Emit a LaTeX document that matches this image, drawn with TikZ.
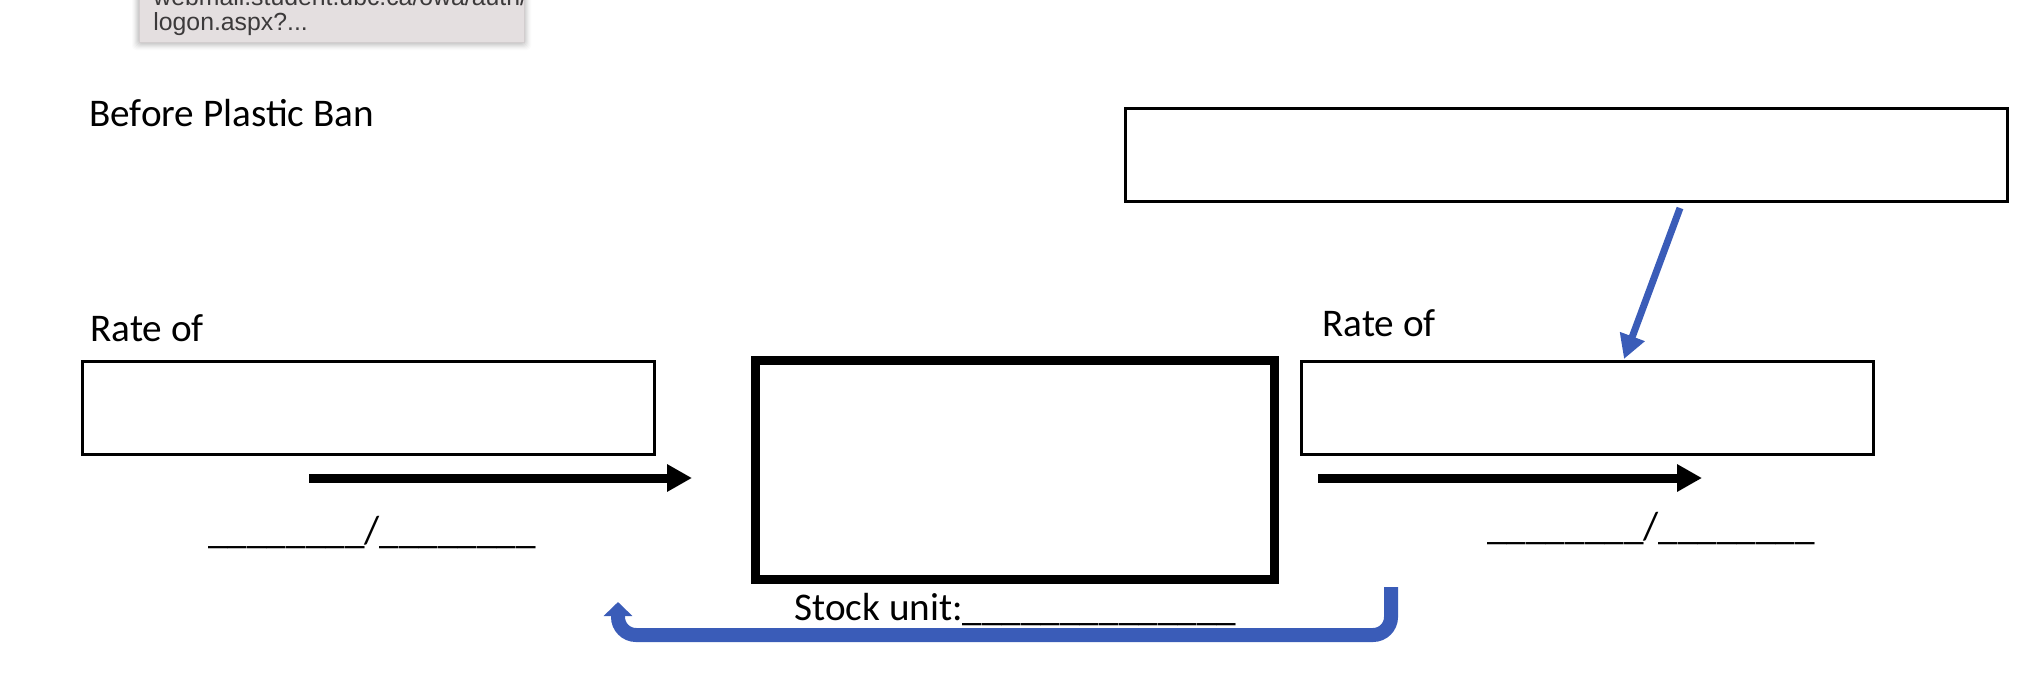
\documentclass[tikz,border=0pt]{standalone}
\usepackage{fontspec}
\setmainfont{Carlito}
\newfontfamily\tipfont{Liberation Sans}
\usetikzlibrary{arrows.meta}
\definecolor{loopblue}{HTML}{3A5CB8}
\definecolor{tipfill}{HTML}{E4DFE0}
\definecolor{tipborder}{HTML}{D2CDCE}
\definecolor{tiptext}{HTML}{3C3A3B}
\tikzset{
  thinbox/.style={draw=black, line width=1.5pt, inner sep=0pt, fill=white},
  stockbox/.style={draw=black, line width=4.5pt, inner sep=0pt, fill=white},
  label/.style={anchor=base west, inner sep=0pt, font=\fontsize{19.6pt}{23pt}\selectfont},
  flowarrow/.style={line width=4.5pt, -{Triangle[length=12.5pt,width=13pt]}},
  bluearrow/.style={draw=loopblue, line width=3.5pt, -{Triangle[length=12pt,width=12.5pt]}, color=loopblue},
  looparrow/.style={draw=loopblue, line width=7pt, rounded corners=9pt, -{Triangle[length=7pt,width=14pt]}, color=loopblue},
  tiptxt/.style={anchor=base west, inner sep=0pt, text=tiptext, font=\tipfont\fontsize{12.4pt}{14pt}\selectfont},
}
\begin{document}
\begin{tikzpicture}[x=0.5pt,y=-0.5pt]
\useasboundingbox (0,0) rectangle (2038,696);
\clip (0,0) rectangle (2038,696);
% tooltip with soft shadow
\foreach \i/\o in {7/0.015,6/0.02,5/0.025,4/0.03,3/0.035,2/0.04,1/0.045}{
  \fill[black, opacity=\o, rounded corners=2pt] (139-\i,-20) rectangle (524+\i,43+\i);
}
\node[draw=tipborder, line width=0.5pt, fill=tipfill, inner sep=0pt, minimum width=192.5pt, minimum height=32pt] (tooltip) at (331.5,10) {};
\node[tiptxt] (tipline1) at (153,5) {webmail.student.ubc.ca/owa/auth/};
\node[tiptxt] (tipline2) at (153,30) {logon.aspx?...};
% title and labels
\node[label] (title) at (89,126) {Before Plastic Ban};
\node[label] (rateleft) at (90,341) {Rate of};
\node[label] (rateright) at (1322,336) {Rate of};
% boxes
\node[thinbox, minimum width=441pt, minimum height=46.5pt] (topbox) at (1566.5,155) {};
\node[thinbox, minimum width=286pt, minimum height=46.5pt] (leftbox) at (368.5,408) {};
\node[thinbox, minimum width=286pt, minimum height=46.5pt] (rightbox) at (1587.5,408) {};
\node[stockbox, minimum width=259.5pt, minimum height=109.5pt] (stock) at (1015,470) {};
% unit blanks
\node[label] (fracleft) at (208,543) {\_\_\_\_\_\_\_\_/\_\_\_\_\_\_\_\_};
\node[label] (fracright) at (1487,539) {\_\_\_\_\_\_\_\_/\_\_\_\_\_\_\_\_};
\node[label] (stockunit) at (794,620) {Stock unit:\_\_\_\_\_\_\_\_\_\_\_\_\_\_};
% flow arrows
\coordinate (inflowstart) at (309,478);
\coordinate (inflowend) at (692,478);
\coordinate (outflowstart) at (1318,478);
\coordinate (outflowend) at (1702,478);
\draw[flowarrow] (inflowstart) -- (inflowend);
\draw[flowarrow] (outflowstart) -- (outflowend);
% blue arrows
\coordinate (diagstart) at (1680,208);
\coordinate (diagend) at (1624,359);
\draw[bluearrow] (diagstart) -- (diagend);
\coordinate (loopstart) at (1391,587);
\coordinate (loopend) at (618,602);
\draw[looparrow] (loopstart) -- ++(0,48) -| (loopend);
\end{tikzpicture}
\end{document}
